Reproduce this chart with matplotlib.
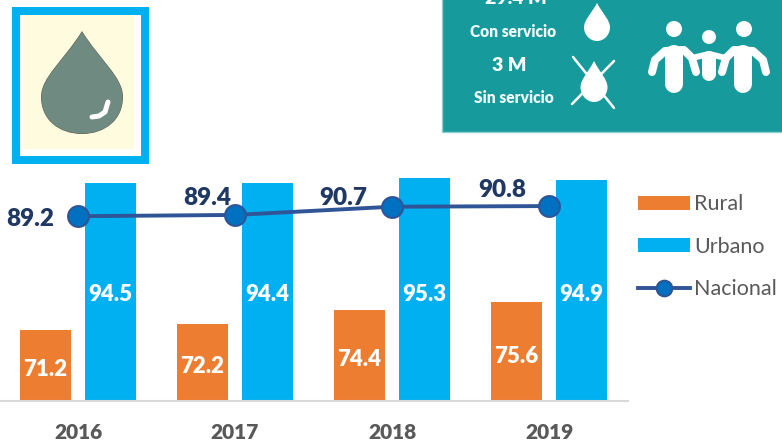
import matplotlib
matplotlib.use('Agg')
import matplotlib.pyplot as plt
from matplotlib.path import Path
from matplotlib.patches import PathPatch, Rectangle, Circle
import numpy as np

years = ['2016', '2017', '2018', '2019']
rural = [71.2, 72.2, 74.4, 75.6]
urbano = [94.5, 94.4, 95.3, 94.9]
nacional = [89.2, 89.4, 90.7, 90.8]

orange = '#ed7d31'
blue = '#00b0f0'
navy = '#1f3864'
teal = '#169a9c'

W, H = 782, 445
plt.rcParams['font.family'] = ['Lato', 'DejaVu Sans']
heavy = 800

fig = plt.figure(figsize=(W / 100, H / 100), dpi=100)

# pixel space layer for the pictures around the chart
bg = fig.add_axes([0, 0, 1, 1])
bg.set_xlim(0, W)
bg.set_ylim(H, 0)
bg.axis('off')


def drop(cx, tip, bottom, half, color, zorder=3):
	widest = bottom - (bottom - tip) * 0.36
	k = half * 0.56
	verts = [
		(cx, tip),
		(cx - half * 0.45, tip + (widest - tip) * 0.45), (cx - half, widest - (widest - tip) * 0.3), (cx - half, widest),
		(cx - half, widest + k), (cx - k, bottom), (cx, bottom),
		(cx + k, bottom), (cx + half, widest + k), (cx + half, widest),
		(cx + half, widest - (widest - tip) * 0.3), (cx + half * 0.45, tip + (widest - tip) * 0.45), (cx, tip),
	]
	codes = [Path.MOVETO] + [Path.CURVE4] * 12
	bg.add_patch(PathPatch(Path(verts, codes), fc=color, ec='none', zorder=zorder))


def stroke(points, width, color='white', zorder=4):
	xs, ys = zip(*points)
	bg.plot(xs, ys, color=color, lw=width * 0.72, solid_capstyle='round', solid_joinstyle='round', zorder=zorder)


# framed drop, top left
bg.add_patch(Rectangle((12, 7), 137, 157, fc=blue, ec='none', zorder=1))
bg.add_patch(Rectangle((20, 15), 121, 141, fc='white', ec='none', zorder=2))
bg.add_patch(Rectangle((23, 15), 111, 134, fc='#fffbdf', ec='none', zorder=2))
drop(82, 31, 134, 41, '#5d5f55', zorder=3)
drop(82, 32, 133.5, 40.5, '#6f8a80', zorder=3)
stroke([(92, 117), (99, 116), (105, 112), (108, 102)], 5, zorder=4)

# teal panel, top right
bg.add_patch(Rectangle((442, -2), 342, 134, fc=teal, ec='#8fd0d2', lw=1, zorder=1))
bg.text(516, -1, '29.4 M', color='white', fontsize=14, fontweight=heavy, ha='center', va='center', zorder=4)
bg.text(513, 32, 'Con servicio', color='#eef8f8', fontsize=11.2, fontweight=heavy, ha='center', va='center', zorder=4)
bg.text(509, 65.5, '3 M', color='white', fontsize=14, fontweight=heavy, ha='center', va='center', zorder=4)
bg.text(514, 98, 'Sin servicio', color='#eef8f8', fontsize=11.2, fontweight=heavy, ha='center', va='center', zorder=4)
drop(597, 3, 41, 13, 'white')
drop(594, 61, 102, 13.5, 'white')
stroke([(573, 57), (614, 108)], 2.5)
stroke([(614, 61), (572, 104)], 2.5)

for hx, hy, r in [(674, 29, 8), (709, 37, 7), (744, 29, 8)]:
	bg.add_patch(Circle((hx, hy), r, fc='white', ec='none', zorder=4))
stroke([(652, 72), (655, 60), (665, 51), (684, 50), (692, 58), (696, 72)], 8)
stroke([(766, 72), (763, 60), (753, 51), (734, 50), (726, 58), (722, 72)], 8)
stroke([(692, 58), (709, 54), (726, 58)], 6)
stroke([(674, 54), (674, 84)], 18)
stroke([(743, 54), (743, 84)], 18)
stroke([(709, 58), (709, 74)], 14)

# chart
ax = fig.add_axes([0, (H - 401) / H, 628 / W, 231 / H])
ax.patch.set_alpha(0)
x = np.arange(len(years))
bars_r = ax.bar(x - 0.207, rural, width=0.325, color=orange, label='Rural')
bars_u = ax.bar(x + 0.207, urbano, width=0.325, color=blue, label='Urbano')
line_n, = ax.plot(x, nacional, '-o', color='#2f5597', lw=2.8, ms=15, mfc='#0070c0', mec='#2f5597', mew=1.5,
	label='Nacional', clip_on=False, zorder=5)
ax.set_xlim(-0.497, 3.503)
ax.set_ylim(60, 96.5)

for i in range(len(years)):
	ax.text(x[i] - 0.207, rural[i] - (rural[i] - 60) * 0.55, '%.1f' % rural[i], color='white', fontsize=16,
		fontweight=heavy, ha='center', va='center')
	ax.text(x[i] + 0.207, 76.8, '%.1f' % urbano[i], color='white', fontsize=16,
		fontweight=heavy, ha='center', va='center')

label_off = [(-48, -3), (-28, 17), (-49, 9), (-47, 16)]
for i in range(len(years)):
	ax.annotate('%.1f' % nacional[i], (x[i], nacional[i]), xytext=(label_off[i][0] * 0.72, label_off[i][1] * 0.72),
		textcoords='offset points', color=navy, fontsize=17.5, fontweight=heavy, ha='center', va='center', zorder=6)

ax.set_yticks([])
ax.set_xticks(x, years)
ax.tick_params(axis='x', length=0, pad=16, labelsize=15, labelcolor='#595959')
for lbl in ax.get_xticklabels():
	lbl.set_fontweight(heavy)
for s in ['top', 'left', 'right']:
	ax.spines[s].set_visible(False)
ax.spines['bottom'].set_color('#d9d9d9')
ax.spines['bottom'].set_linewidth(1.5)

fig.legend([bars_r, bars_u, line_n], ['Rural', 'Urbano', 'Nacional'], loc='upper left',
	bbox_to_anchor=(633.5 / W, 1 - 190 / H), frameon=False,
	fontsize=15.5, labelcolor='#595959', handlelength=2.42, handleheight=0.6, labelspacing=1.04, handletextpad=0.2,
	borderpad=0.2, borderaxespad=0, markerscale=0.75)

fig.savefig('out.png', dpi=100)
